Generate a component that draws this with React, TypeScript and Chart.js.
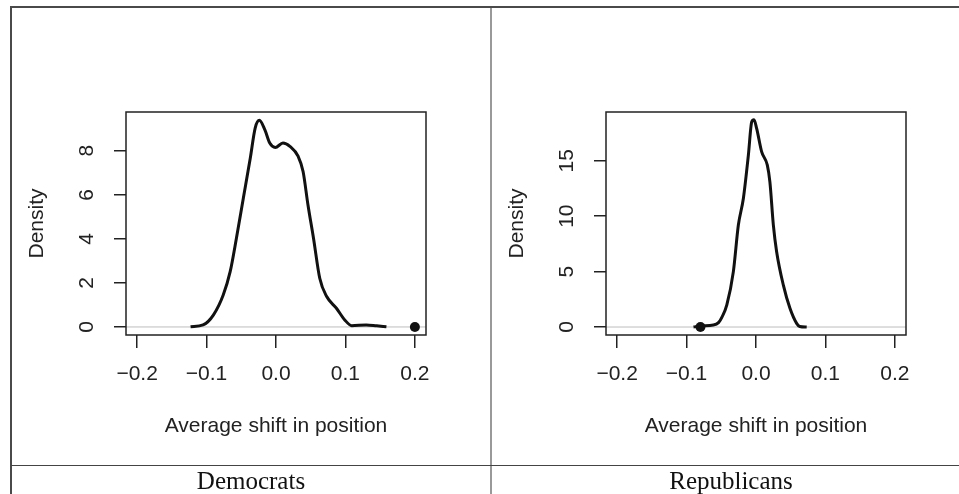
import React, { useEffect, useRef } from "react";
import { Chart, registerables } from "chart.js";

Chart.register(...registerables);

// ---- shared axis data ----
const xTicks = [-0.2, -0.1, 0, 0.1, 0.2];
const xTickLabels = ["\u22120.2", "\u22120.1", "0.0", "0.1", "0.2"];
const xMin = -0.216;
const xMax = 0.216;
const xTitle = "Average shift in position";
const yTitle = "Density";
const panelTitles = ["Democrats", "Republicans"];

// ---- Democrats density ----
const demX = [-0.123, -0.105, -0.09, -0.076, -0.066, -0.057, -0.047, -0.037, -0.03, -0.024, -0.016, -0.009, -0.001, 0.01, 0.02, 0.032, 0.039, 0.046, 0.054, 0.063, 0.073, 0.087, 0.099, 0.109, 0.13, 0.145, 0.159];
const demY = [0.01, 0.09, 0.55, 1.45, 2.51, 4.03, 5.85, 7.67, 9.03, 9.38, 8.95, 8.35, 8.15, 8.35, 8.2, 7.74, 7.06, 5.55, 4.03, 2.21, 1.38, 0.85, 0.32, 0.06, 0.09, 0.05, 0.01];
const demDotX = [0.2];
const demDotY = [0];
const demYTicks = [0, 2, 4, 6, 8];
const demYMin = -0.365;
const demYMax = 9.76;

// ---- Republicans density ----
const repX = [-0.09, -0.0796, -0.0614, -0.054, -0.049, -0.042, -0.0326, -0.0254, -0.0182, -0.011, -0.0062, -0.0029, 0.001, 0.0082, 0.0163, 0.02, 0.025, 0.0297, 0.0393, 0.0489, 0.0585, 0.063, 0.073];
const repY = [0.0, 0.1, 0.18, 0.4, 0.9, 2.0, 5.0, 9.2, 11.6, 15.5, 18.5, 18.7, 17.9, 15.8, 14.6, 13.1, 9.2, 6.8, 3.8, 1.69, 0.33, 0.05, 0.0];
const repDotX = [-0.08];
const repDotY = [0];
const repYTicks = [0, 5, 10, 15];
const repYMin = -0.72;
const repYMax = 19.4;

const SANS = "'Liberation Sans', Arial, Helvetica, sans-serif";
const INK = "#222";

const framePlugin = {
  id: "frame",
  beforeDatasetsDraw(chart: any) {
    const { ctx, chartArea: a } = chart;
    const y0 = chart.scales.y.getPixelForValue(0);
    ctx.save();
    ctx.strokeStyle = "#bdbdbd";
    ctx.lineWidth = 1;
    ctx.beginPath();
    ctx.moveTo(a.left, y0);
    ctx.lineTo(a.right, y0);
    ctx.stroke();
    ctx.restore();
  },
  afterDraw(chart: any) {
    const { ctx, chartArea: a } = chart;
    ctx.save();
    ctx.strokeStyle = INK;
    ctx.lineWidth = 1.5;
    ctx.strokeRect(a.left, a.top, a.right - a.left, a.bottom - a.top);
    ctx.restore();
  },
};

type PanelProps = {
  xs: number[];
  ys: number[];
  dotX: number[];
  dotY: number[];
  yTicks: number[];
  yMin: number;
  yMax: number;
  yPad: number;
  left: number;
};

const CW = 480;
const CH = 458;

function Panel({ xs, ys, dotX, dotY, yTicks, yMin, yMax, yPad, left }: PanelProps) {
  const ref = useRef<HTMLCanvasElement>(null);
  useEffect(() => {
    const font = { family: SANS, size: 21 };
    const chart = new Chart(ref.current as HTMLCanvasElement, {
      type: "scatter",
      data: {
        datasets: [
          {
            data: dotX.map((x, i) => ({ x, y: dotY[i] })),
            pointRadius: 5,
            pointBackgroundColor: "#111",
            pointBorderColor: "#111",
            pointBorderWidth: 0,
            showLine: false,
          },
          {
            data: xs.map((x, i) => ({ x, y: ys[i] })),
            showLine: true,
            pointRadius: 0,
            borderColor: "#111",
            borderWidth: 3,
            cubicInterpolationMode: "monotone",
            fill: false,
          },
        ],
      } as any,
      options: {
        animation: false,
        responsive: false,
        events: [],
        layout: { padding: { left: 0, right: 65, top: 105, bottom: 20 } },
        plugins: { legend: { display: false }, tooltip: { enabled: false } },
        scales: {
          x: {
            type: "linear",
            min: xMin,
            max: xMax,
            afterBuildTicks: (s: any) => {
              s.ticks = xTicks.map((v) => ({ value: v }));
            },
            afterFit: (s: any) => {
              s.height = 110;
            },
            ticks: {
              callback: (_v: any, i: number) => xTickLabels[i],
              font,
              color: INK,
              padding: 14,
              maxRotation: 0,
              autoSkip: false,
            },
            grid: { drawOnChartArea: false, drawTicks: true, tickLength: 13, color: INK, lineWidth: 1.5 },
            border: { display: false },
            title: { display: true, text: xTitle, font, color: INK, padding: { top: 0, bottom: 6.4 } },
          },
          y: {
            type: "linear",
            min: yMin,
            max: yMax,
            afterBuildTicks: (s: any) => {
              s.ticks = yTicks.map((v) => ({ value: v }));
            },
            afterFit: (s: any) => {
              s.width = 115;
            },
            ticks: {
              callback: (v: any) => String(v),
              font,
              color: INK,
              padding: yPad,
              minRotation: 90,
              maxRotation: 90,
              crossAlign: "center",
              autoSkip: false,
            },
            grid: { drawOnChartArea: false, drawTicks: true, tickLength: 12, color: INK, lineWidth: 1.5 },
            border: { display: false },
            title: { display: true, text: yTitle, font, color: INK, padding: { top: 13.4, bottom: 0 } },
          },
        },
      } as any,
      plugins: [framePlugin],
    });
    return () => chart.destroy();
  }, []);
  return (
    <canvas
      ref={ref}
      width={CW}
      height={CH}
      style={{ position: "absolute", left, top: 7, width: CW, height: CH }}
    />
  );
}

export default function App() {
  const line = (s: React.CSSProperties) => <div style={{ position: "absolute", ...s }} />;
  const caption: React.CSSProperties = {
    position: "absolute",
    top: 467,
    width: 480,
    height: 28,
    lineHeight: "28px",
    textAlign: "center",
    fontFamily: "'Liberation Serif', 'Times New Roman', serif",
    fontSize: 25,
    color: "#111",
  };
  return (
    <div
      style={{
        position: "absolute",
        left: 0,
        top: 0,
        width: 959,
        height: 494,
        overflow: "hidden",
        background: "#fff",
      }}
    >
      <Panel xs={demX} ys={demY} dotX={demDotX} dotY={demDotY} yTicks={demYTicks} yMin={demYMin} yMax={demYMax} yPad={21} left={11} />
      <Panel xs={repX} ys={repY} dotX={repDotX} dotY={repDotY} yTicks={repYTicks} yMin={repYMin} yMax={repYMax} yPad={15.3} left={491} />
      {line({ left: 10, top: 6, width: 949, height: 2, background: "#4a4a4a" })}
      {line({ left: 10, top: 6, width: 2, height: 488, background: "#4a4a4a" })}
      {line({ left: 490, top: 8, width: 2, height: 486, background: "#999" })}
      {line({ left: 11, top: 464.5, width: 948, height: 1.5, background: "#444" })}
      <div style={{ ...caption, left: 11 }}>{panelTitles[0]}</div>
      <div style={{ ...caption, left: 491 }}>{panelTitles[1]}</div>
    </div>
  );
}
